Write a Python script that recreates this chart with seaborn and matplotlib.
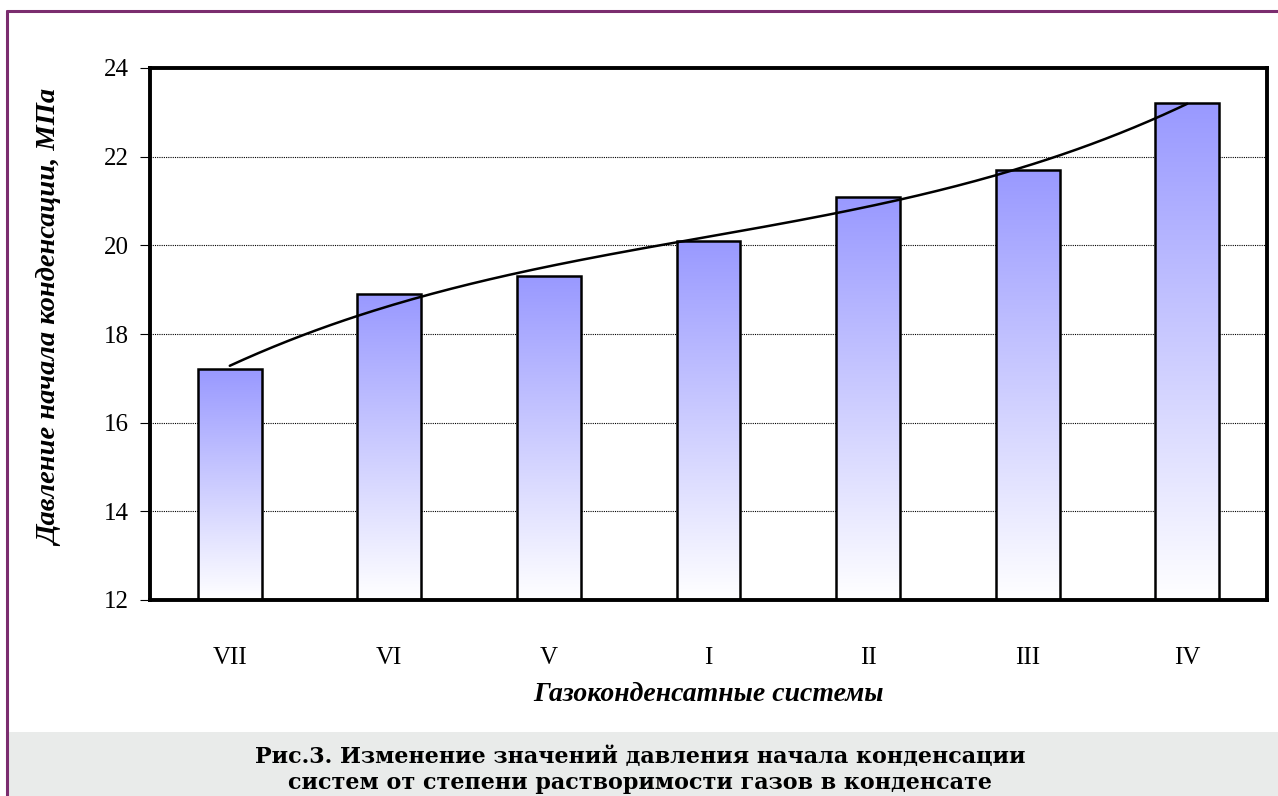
import numpy as np
import matplotlib
matplotlib.use("Agg")
import matplotlib.pyplot as plt
from matplotlib.colors import LinearSegmentedColormap
from matplotlib.patches import Rectangle
from matplotlib.lines import Line2D
import seaborn as sns

# data
systems = ["VII", "VI", "V", "I", "II", "III", "IV"]
pressure = [17.2, 18.9, 19.3, 20.1, 21.1, 21.7, 23.2]
y_ticks = [12, 14, 16, 18, 20, 22, 24]

sns.set_theme(style="white")
plt.rcParams["font.family"] = ["Liberation Serif", "DejaVu Serif"]

fig = plt.figure(figsize=(12.78, 7.96), dpi=100)
ax = fig.add_axes([150 / 1278, 196 / 796, 1117 / 1278, 532 / 796])

sns.barplot(x=systems, y=pressure, width=0.4, color="#9999ff",
            edgecolor="black", linewidth=1.8, ax=ax, zorder=3)

ax.set_ylim(12, 24)
ax.set_xlim(-0.5, len(systems) - 0.5)

# gradient fill inside each bar
grad = LinearSegmentedColormap.from_list("bar", ["#ffffff", "#9999ff"])
ramp = np.linspace(0, 1, 256).reshape(-1, 1)
for patch in ax.patches:
    patch.set_facecolor("none")
    x0 = patch.get_x()
    w = patch.get_width()
    top = patch.get_height()
    im = ax.imshow(ramp, cmap=grad, origin="lower", aspect="auto",
                   extent=[x0, x0 + w, 12, top], zorder=2)
    im.set_clip_path(patch)

# polynomial trend line
xs = np.arange(len(systems))
coef = np.polyfit(xs, pressure, 3)
xf = np.linspace(0, len(systems) - 1, 200)
ax.plot(xf, np.polyval(coef, xf), color="black", lw=1.8, zorder=4)

ax.set_xlim(-0.5, len(systems) - 0.5)
ax.set_ylim(12, 24)

# gridlines and axes styling
ax.set_yticks(y_ticks)
for t in y_ticks[1:-1]:
    ax.axhline(t, color="black", lw=0.8, ls=(0, (1, 1)), zorder=1)
for s in ax.spines.values():
    s.set_color("black")
    s.set_linewidth(2.8)
ax.tick_params(axis="y", left=True, length=7, width=0.8, color="black",
               labelsize=18, pad=8)
ax.tick_params(axis="x", bottom=False, labelsize=18, pad=28)
for lab in ax.get_xticklabels() + ax.get_yticklabels():
    lab.set_color("black")

ax.set_xlabel("Газоконденсатные системы", fontsize=20, fontweight="bold",
              fontstyle="italic", color="black", labelpad=9)
ax.set_ylabel("Давление начала конденсации, МПа", fontsize=20.5,
              fontweight="bold", fontstyle="italic", color="black")
ax.yaxis.set_label_coords(-87 / 1117, 0.53)

# page decorations: purple border and caption box
fig.add_artist(Rectangle((9 / 1278, 0), 1, 64 / 796, transform=fig.transFigure,
                         facecolor="#e9ebea", edgecolor="none", zorder=0))
fig.add_artist(Line2D([7 / 1278, 7 / 1278], [0, 785 / 796], transform=fig.transFigure,
                      color="#7b2d6f", lw=2.2))
fig.add_artist(Line2D([7 / 1278, 1], [785 / 796, 785 / 796], transform=fig.transFigure,
                      color="#7b2d6f", lw=2.2))
fig.text(640 / 1278, 26 / 796,
         "Рис.3. Изменение значений давления начала конденсации\n"
         "систем от степени растворимости газов в конденсате",
         ha="center", va="center", fontsize=16, fontweight="bold",
         color="black", linespacing=1.25,
         family=["DejaVu Serif", "Liberation Serif"])

fig.savefig("out.png", dpi=100)
